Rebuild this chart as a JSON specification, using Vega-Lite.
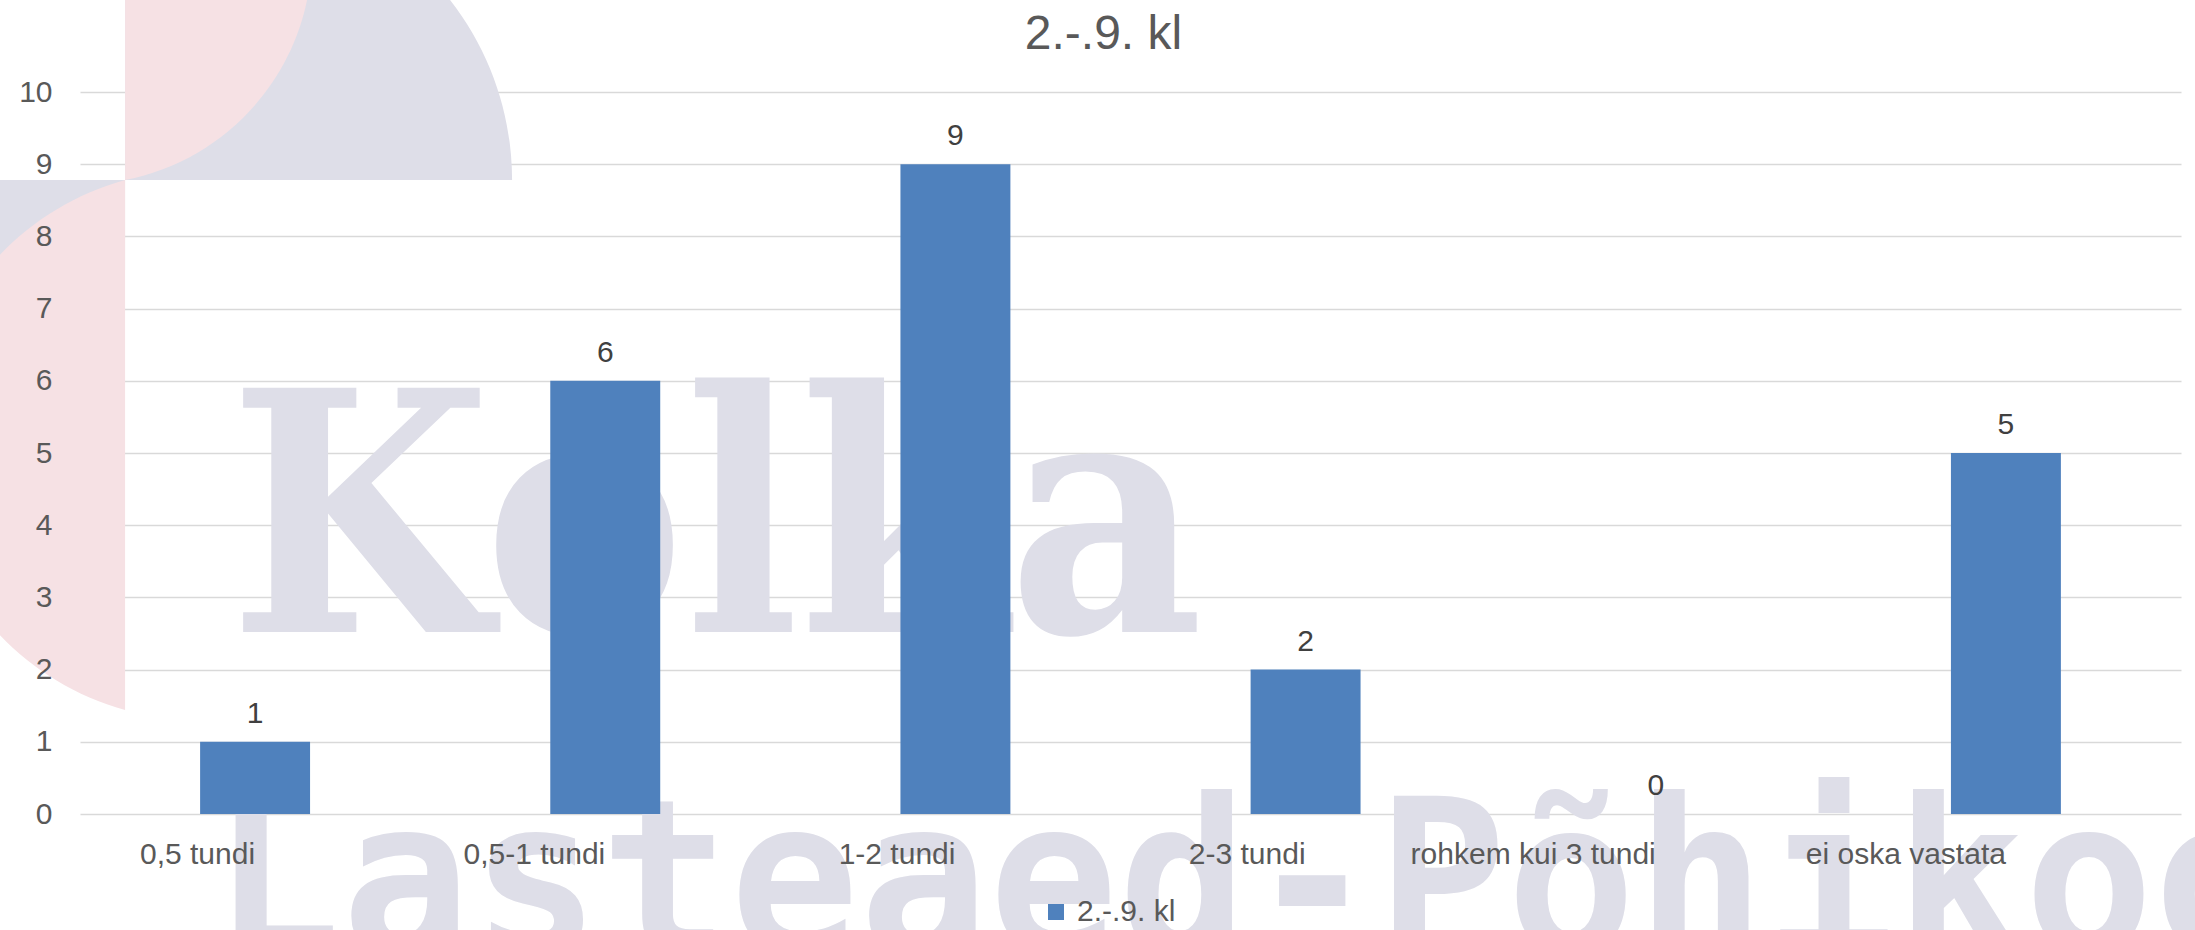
{
  "$schema": "https://vega.github.io/schema/vega-lite/v6.json",
  "width": 2101,
  "height": 722,
  "autosize": {"type": "none"},
  "padding": {"left": 80, "top": 92, "right": 14, "bottom": 116},
  "background": "white",
  "config": {
    "view": {"stroke": null},
    "font": "Liberation Sans"
  },
  "title": {
    "text": "2.-.9. kl",
    "fontSize": 48,
    "font": "Liberation Sans",
    "fontWeight": "normal",
    "color": "#595959",
    "anchor": "middle",
    "frame": "group",
    "baseline": "alphabetic",
    "offset": -97,
    "dx": -27
  },
  "resolve": {"axis": {"y": "independent"}},
  "datasets": {
    "main": [
      {"category": "0,5 tundi", "value": 1, "series": "2.-.9. kl"},
      {"category": "0,5-1 tundi", "value": 6, "series": "2.-.9. kl"},
      {"category": "1-2 tundi", "value": 9, "series": "2.-.9. kl"},
      {"category": "2-3 tundi", "value": 2, "series": "2.-.9. kl"},
      {"category": "rohkem kui 3 tundi", "value": 0, "series": "2.-.9. kl"},
      {"category": "ei oska vastata", "value": 5, "series": "2.-.9. kl"}
    ]
  },
  "layer": [
    {
      "data": {"values": [{"part": "logo"}]},
      "mark": {"type": "point", "filled": true, "opacity": 1, "strokeWidth": 0, "color": "#dedee8", "size": 40000,
        "shape": "M-1.30,-1.642L1.95,-1.642A2.9206,2.9206,0,0,1,2.57,0.158L-1.30,0.158ZM-2.65,0.158L-1.30,0.158L-1.30,1.058L-2.65,1.058Z"},
      "encoding": {
        "x": {"datum": "0,5 tundi", "type": "nominal", "scale": {"domain": ["0,5 tundi", "0,5-1 tundi", "1-2 tundi", "2-3 tundi", "rohkem kui 3 tundi", "ei oska vastata"]}},
        "y": {"datum": 9, "type": "quantitative", "axis": null, "scale": {"domain": [0, 10]}}
      }
    },
    {
      "data": {"values": [{"part": "logo"}]},
      "mark": {"type": "point", "filled": true, "opacity": 1, "strokeWidth": 0, "color": "#f6e1e4", "size": 40000,
        "shape": "M-1.30,-1.642L0.52,-1.642A2.31,2.31,0,0,1,-1.30,0.158ZM-1.30,0.158A2.75,2.75,0,0,0,-1.30,5.458Z"},
      "encoding": {
        "x": {"datum": "0,5 tundi", "type": "nominal"},
        "y": {"datum": 9, "type": "quantitative", "axis": null}
      }
    },
    {
      "data": {"values": [{"label": "Kolka"}]},
      "mark": {"type": "text", "font": "DejaVu Serif Condensed", "fontWeight": "bold", "fontSize": 335, "color": "#dedee8", "align": "left", "baseline": "alphabetic", "dx": -26},
      "encoding": {
        "x": {"datum": "0,5 tundi", "type": "nominal"},
        "y": {"datum": 2.52, "type": "quantitative", "axis": null},
        "text": {"field": "label"}
      }
    },
    {
      "data": {"values": [{"label": "Lasteaed-Põhikool"}]},
      "mark": {"type": "text", "font": "DejaVu Sans Mono", "fontWeight": "bold", "fontSize": 215, "color": "#dedee8", "align": "left", "baseline": "alphabetic", "dx": -43},
      "encoding": {
        "x": {"datum": "0,5 tundi", "type": "nominal"},
        "y": {"datum": -1.93, "type": "quantitative", "axis": null},
        "text": {"field": "label"}
      }
    },
    {
      "data": {"name": "main"},
      "mark": {"type": "bar", "color": "#4f81bd"},
      "encoding": {
        "x": {
          "field": "category",
          "type": "nominal",
          "sort": null,
          "scale": {"paddingInner": 0.686, "paddingOuter": 0.343},
          "axis": {
            "title": null,
            "zindex": 1,
            "labelAngle": 0,
            "labelFontSize": 30,
            "labelColor": "#595959",
            "labelFont": "Liberation Sans",
            "labelBaseline": "alphabetic",
            "labelPadding": 49,
            "labelLimit": 500,
            "ticks": false,
            "tickSize": 0,
            "domain": false,
            "grid": false
          }
        },
        "y": {
          "field": "value",
          "type": "quantitative",
          "scale": {"domain": [0, 10]},
          "axis": {
            "title": null,
            "orient": "left",
            "values": [0, 1, 2, 3, 4, 5, 6, 7, 8, 9, 10],
            "labels": false,
            "ticks": false,
            "tickSize": 0,
            "domain": false,
            "grid": true,
            "gridColor": "#d9d9d9",
            "gridWidth": 1.5,
            "zindex": 0
          }
        },
        "color": {
          "field": "series",
          "type": "nominal",
          "scale": {"range": ["#4f81bd"]},
          "legend": {
            "title": null,
            "orient": "none",
            "legendX": 961,
            "legendY": 805,
            "symbolType": "square",
            "symbolSize": 256,
            "symbolStrokeWidth": 0,
            "labelFontSize": 30,
            "labelColor": "#595959",
            "labelFont": "Liberation Sans",
            "labelOffset": 6,
            "padding": 0
          }
        }
      }
    },
    {
      "data": {"name": "main"},
      "mark": {"type": "text", "fontSize": 30, "font": "Liberation Sans", "color": "#404040", "baseline": "alphabetic", "dy": -19},
      "encoding": {
        "x": {"field": "category", "type": "nominal", "sort": null},
        "y": {
          "field": "value",
          "type": "quantitative",
          "axis": {
            "title": null,
            "orient": "left",
            "values": [0, 1, 2, 3, 4, 5, 6, 7, 8, 9, 10],
            "format": "d",
            "labelFontSize": 30,
            "labelColor": "#595959",
            "labelFont": "Liberation Sans",
            "labelPadding": 28,
            "ticks": false,
            "tickSize": 0,
            "domain": false,
            "grid": false,
            "zindex": 1
          }
        },
        "text": {"field": "value", "type": "quantitative"}
      }
    }
  ]
}
